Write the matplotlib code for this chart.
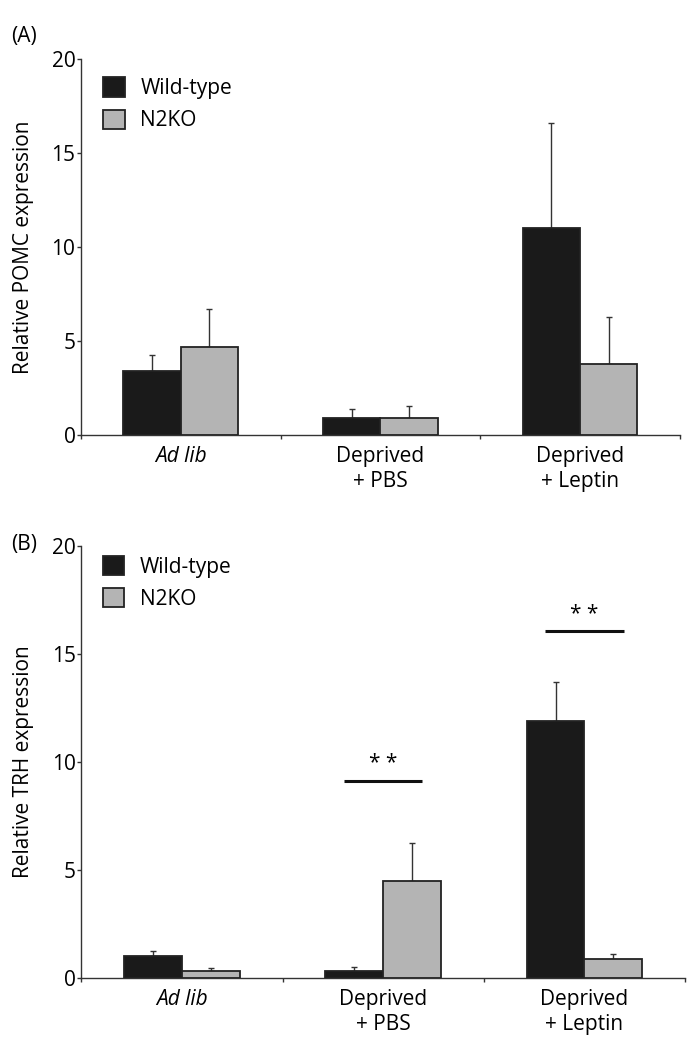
import matplotlib
matplotlib.use("Agg")
import matplotlib.pyplot as plt
import numpy as np

plt.rcParams['font.family'] = ['Open Sans', 'DejaVu Sans']

categories = ['Ad lib', 'Deprived\n+ PBS', 'Deprived\n+ Leptin']
groups = ['Wild-type', 'N2KO']

# Panel A: POMC
pomc_wt = [3.42, 0.92, 11.03]
pomc_wt_err = [0.84, 0.48, 5.56]
pomc_ko = [4.70, 0.92, 3.79]
pomc_ko_err = [1.99, 0.60, 2.49]

# Panel B: TRH
trh_wt = [1.00, 0.33, 11.87]
trh_wt_err = [0.24, 0.17, 1.82]
trh_ko = [0.30, 4.47, 0.88]
trh_ko_err = [0.13, 1.76, 0.22]

# significance bars (category index, height)
trh_sig = [(1, 9.13), (2, 16.06)]

BLACK = '#1a1a1a'
GRAY = '#b4b4b4'
EDGE = '#222222'
FS = 15


def draw_panel(ax, wt, wt_err, ko, ko_err, ylabel, leg_x, leg_y, sig=None):
    x = np.arange(1, len(categories) + 1)
    w = 0.287
    ax.bar(x - w / 2, wt, w, color=BLACK, edgecolor=EDGE, linewidth=1.3,
           label=groups[0], zorder=3)
    ax.bar(x + w / 2, ko, w, color=GRAY, edgecolor=EDGE, linewidth=1.3,
           label=groups[1], zorder=3)
    ax.errorbar(x - w / 2, wt, yerr=[np.zeros(len(wt)), wt_err], fmt='none',
                ecolor='#333333', elinewidth=1.0, capsize=2.2, capthick=1.0, zorder=2)
    ax.errorbar(x + w / 2, ko, yerr=[np.zeros(len(ko)), ko_err], fmt='none',
                ecolor='#333333', elinewidth=1.0, capsize=2.2, capthick=1.0, zorder=2)

    ax.set_xlim(0.5, len(categories) + 0.5)
    ax.set_ylim(0, 20)
    ax.set_yticks([0, 5, 10, 15, 20])
    ax.set_xticks(x)
    ax.set_xticklabels(categories, fontsize=FS, linespacing=1.27)
    ax.get_xticklabels()[0].set_style('italic')
    ax.set_xticks(np.arange(0.5, len(categories) + 1), minor=True)
    ax.tick_params(axis='x', which='major', length=0, pad=8)
    ax.tick_params(axis='x', which='minor', length=3, width=1, color='#333333')
    ax.tick_params(axis='y', length=3, width=1, color='#333333', labelsize=FS, pad=1)
    for s in ['top', 'right']:
        ax.spines[s].set_visible(False)
    for s in ['left', 'bottom']:
        ax.spines[s].set_color('#333333')
        ax.spines[s].set_linewidth(1.0)
    ax.set_ylabel(ylabel, fontsize=FS)
    ax.yaxis.set_label_coords(-0.079, 0.5)

    ax.legend(loc='upper left', bbox_to_anchor=(leg_x, leg_y), frameon=False,
              fontsize=FS, handlelength=1.05, handleheight=1.05,
              labelspacing=0.5, handletextpad=0.75, borderaxespad=0.3)

    if sig:
        for i, h in sig:
            cx = i + 1
            ax.plot([cx - 0.195, cx + 0.195], [h, h], color='#111111', lw=2.2,
                    solid_capstyle='butt', zorder=4)
            ax.text(cx, h + 0.3, '* *', ha='center', va='bottom', fontsize=FS)
    return ax


fig = plt.figure(figsize=(6.98, 10.5), dpi=100)
ax1 = fig.add_axes([0.116, 0.5857, 0.858, 0.358])
ax2 = fig.add_axes([0.1165, 0.0689, 0.865, 0.4111])

draw_panel(ax1, pomc_wt, pomc_wt_err, pomc_ko, pomc_ko_err,
           'Relative POMC expression', 0.012, 0.99)
draw_panel(ax2, trh_wt, trh_wt_err, trh_ko, trh_ko_err,
           'Relative TRH expression', 0.011, 1.011, sig=trh_sig)

fig.text(0.016, 0.9657, '(A)', fontsize=FS, ha='left', va='center')
fig.text(0.016, 0.4810, '(B)', fontsize=FS, ha='left', va='center')

fig.savefig('out.png', dpi=100, facecolor='white')
